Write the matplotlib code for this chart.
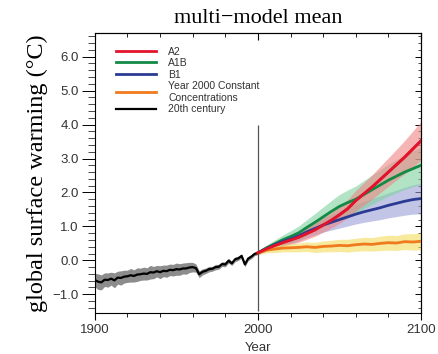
import numpy as np
import matplotlib
matplotlib.use("Agg")
import matplotlib.pyplot as plt
from matplotlib.ticker import MultipleLocator, FixedLocator

# 20th century (every 2 years)
hist_years = np.arange(1900, 2001, 2)
hist_mean = [-0.58, -0.63, -0.65, -0.57, -0.58, -0.54, -0.59, -0.51, -0.52, -0.48,
             -0.47, -0.44, -0.46, -0.42, -0.41, -0.39, -0.40, -0.35, -0.36, -0.32,
             -0.35, -0.31, -0.32, -0.28, -0.29, -0.26, -0.27, -0.24, -0.24, -0.21,
             -0.20, -0.23, -0.41, -0.34, -0.31, -0.26, -0.25, -0.20, -0.19, -0.11,
             -0.12, -0.01, -0.09, 0.03, 0.06, 0.13, -0.12, 0.05, 0.11, 0.19, 0.22]
hist_spread = [0.20, 0.23, 0.22, 0.20, 0.21, 0.19, 0.22, 0.19, 0.21, 0.19,
               0.18, 0.20, 0.18, 0.20, 0.18, 0.19, 0.18, 0.20, 0.18, 0.17,
               0.19, 0.17, 0.18, 0.17, 0.17, 0.18, 0.17, 0.16, 0.17, 0.15,
               0.14, 0.12, 0.10, 0.09, 0.08, 0.08, 0.07, 0.08, 0.07, 0.07,
               0.07, 0.07, 0.06, 0.07, 0.06, 0.06, 0.07, 0.06, 0.06, 0.05, 0.05]

# projections (every 5 years)
proj_years = np.arange(2000, 2101, 5)
a2 = [0.22, 0.33, 0.43, 0.52, 0.60, 0.68, 0.79, 0.90, 1.04, 1.18, 1.34,
      1.52, 1.76, 1.96, 2.16, 2.38, 2.60, 2.82, 3.04, 3.28, 3.52]
a1b = [0.22, 0.36, 0.48, 0.60, 0.70, 0.81, 0.97, 1.12, 1.28, 1.44, 1.59,
       1.70, 1.80, 1.94, 2.08, 2.22, 2.36, 2.48, 2.60, 2.70, 2.80]
b1 = [0.22, 0.34, 0.45, 0.55, 0.63, 0.72, 0.84, 0.94, 1.04, 1.12, 1.20,
      1.28, 1.36, 1.43, 1.49, 1.55, 1.62, 1.68, 1.74, 1.79, 1.82]
commit = [0.22, 0.30, 0.33, 0.36, 0.37, 0.38, 0.40, 0.38, 0.41, 0.42, 0.44,
          0.43, 0.46, 0.48, 0.47, 0.50, 0.52, 0.51, 0.55, 0.54, 0.56]
a2_spread = [0.05, 0.07, 0.09, 0.11, 0.13, 0.15, 0.17, 0.19, 0.21, 0.23, 0.25,
             0.27, 0.30, 0.33, 0.36, 0.39, 0.42, 0.45, 0.49, 0.53, 0.57]
a1b_spread = [0.05, 0.08, 0.11, 0.14, 0.17, 0.20, 0.23, 0.26, 0.29, 0.32, 0.35,
              0.37, 0.39, 0.41, 0.43, 0.45, 0.47, 0.49, 0.51, 0.53, 0.55]
b1_spread = [0.05, 0.07, 0.09, 0.11, 0.13, 0.15, 0.17, 0.19, 0.21, 0.23, 0.25,
             0.27, 0.29, 0.31, 0.33, 0.35, 0.37, 0.39, 0.41, 0.43, 0.45]
commit_spread = [0.05, 0.08, 0.10, 0.11, 0.12, 0.13, 0.14, 0.15, 0.16, 0.17, 0.18,
                 0.19, 0.19, 0.20, 0.20, 0.21, 0.22, 0.22, 0.23, 0.24, 0.25]

scenarios = [("A2", a2, a2_spread, "#e3132b", "#ef8585"),
             ("A1B", a1b, a1b_spread, "#128a46", "#7fd19e"),
             ("B1", b1, b1_spread, "#2b3b94", "#9a9fd6"),
             ("Year 2000 Constant\nConcentrations", commit, commit_spread, "#f07a1e", "#f2dc5a")]

fig = plt.figure(figsize=(4.39, 3.54), dpi=100)
ax = fig.add_axes([0.216, 0.116, 0.743, 0.791])

sans = ["Liberation Sans", "DejaVu Sans"]
serif = ["Liberation Serif", "DejaVu Serif"]

# bands
hm = np.array(hist_mean); hs = np.array(hist_spread)
ax.fill_between(hist_years, hm - hs, hm + hs, color="#8c8c8c", lw=0)
for name, m, s, c, fc in [scenarios[2], scenarios[1], scenarios[0], scenarios[3]]:
    m = np.array(m); s = np.array(s)
    ax.fill_between(proj_years, m - s, m + s, color=fc, alpha=0.6, lw=0)

ax.vlines(2000, -1.5, 4.0, color="#555555", lw=0.9, zorder=1.5)

# lines
handles = []
for name, m, s, c, fc in scenarios:
    h, = ax.plot(proj_years, m, color=c, lw=2.0, label=name, zorder=3)
    handles.append(h)
h, = ax.plot(hist_years, hist_mean, color="black", lw=1.6, label="20th century", zorder=3)
handles.append(h)
# red on top like the reference
ax.plot(proj_years, a2, color="#e3132b", lw=2.0, zorder=3.5)

ax.set_xlim(1900, 2100)
ax.set_ylim(-1.55, 6.7)

ax.xaxis.set_major_locator(FixedLocator([1900, 2000, 2100]))
ax.xaxis.set_minor_locator(MultipleLocator(20))
ax.yaxis.set_minor_locator(MultipleLocator(0.2))
ax.set_yticks(np.arange(-1, 6.1, 1))
ax.set_yticklabels(["%.1f" % v if v >= 0 else "\u22121.0" for v in np.arange(-1, 6.1, 1)])

ax.tick_params(axis="y", which="major", direction="out", length=9.5, width=0.7,
               labelsize=9.5, labelcolor="#333333", pad=2)
ax.tick_params(axis="y", which="minor", direction="out", length=5, width=0.5)
ax.tick_params(axis="x", which="major", direction="out", length=5, width=0.8,
               labelsize=9.5, labelcolor="#333333", pad=3)
ax.tick_params(axis="x", which="minor", direction="out", length=3, width=0.6)
for lab in ax.get_xticklabels() + ax.get_yticklabels():
    lab.set_family(sans)

top = ax.secondary_xaxis("top")
top.xaxis.set_major_locator(FixedLocator([1900, 2000, 2100]))
top.xaxis.set_minor_locator(MultipleLocator(20))
top.tick_params(which="major", direction="in", length=5, width=0.8, labeltop=False)
top.tick_params(which="minor", direction="in", length=3, width=0.6)
right = ax.secondary_yaxis("right")
right.yaxis.set_major_locator(MultipleLocator(1))
right.yaxis.set_minor_locator(MultipleLocator(0.2))
right.tick_params(which="major", direction="in", length=4, width=0.7, labelright=False)
right.tick_params(which="minor", direction="in", length=2, width=0.5)

for sp in ax.spines.values():
    sp.set_linewidth(0.8)

ax.set_xlabel("Year", family=sans, fontsize=9.5, color="#333333", labelpad=4)
ax.set_ylabel("global surface warming (\u00b0C)", family=serif, fontsize=17.5, labelpad=3)
ax.set_title("multi\u2212model mean", family=serif, fontsize=16, pad=7)

leg = ax.legend(handles=handles, loc="upper left", bbox_to_anchor=(0.05, 0.97),
                frameon=False, prop={"family": sans, "size": 7.5},
                handlelength=3.8, handletextpad=1.2, labelspacing=0.15, borderpad=0)
for t in leg.get_texts():
    t.set_color("#333333")

fig.savefig("out.png", dpi=100)
